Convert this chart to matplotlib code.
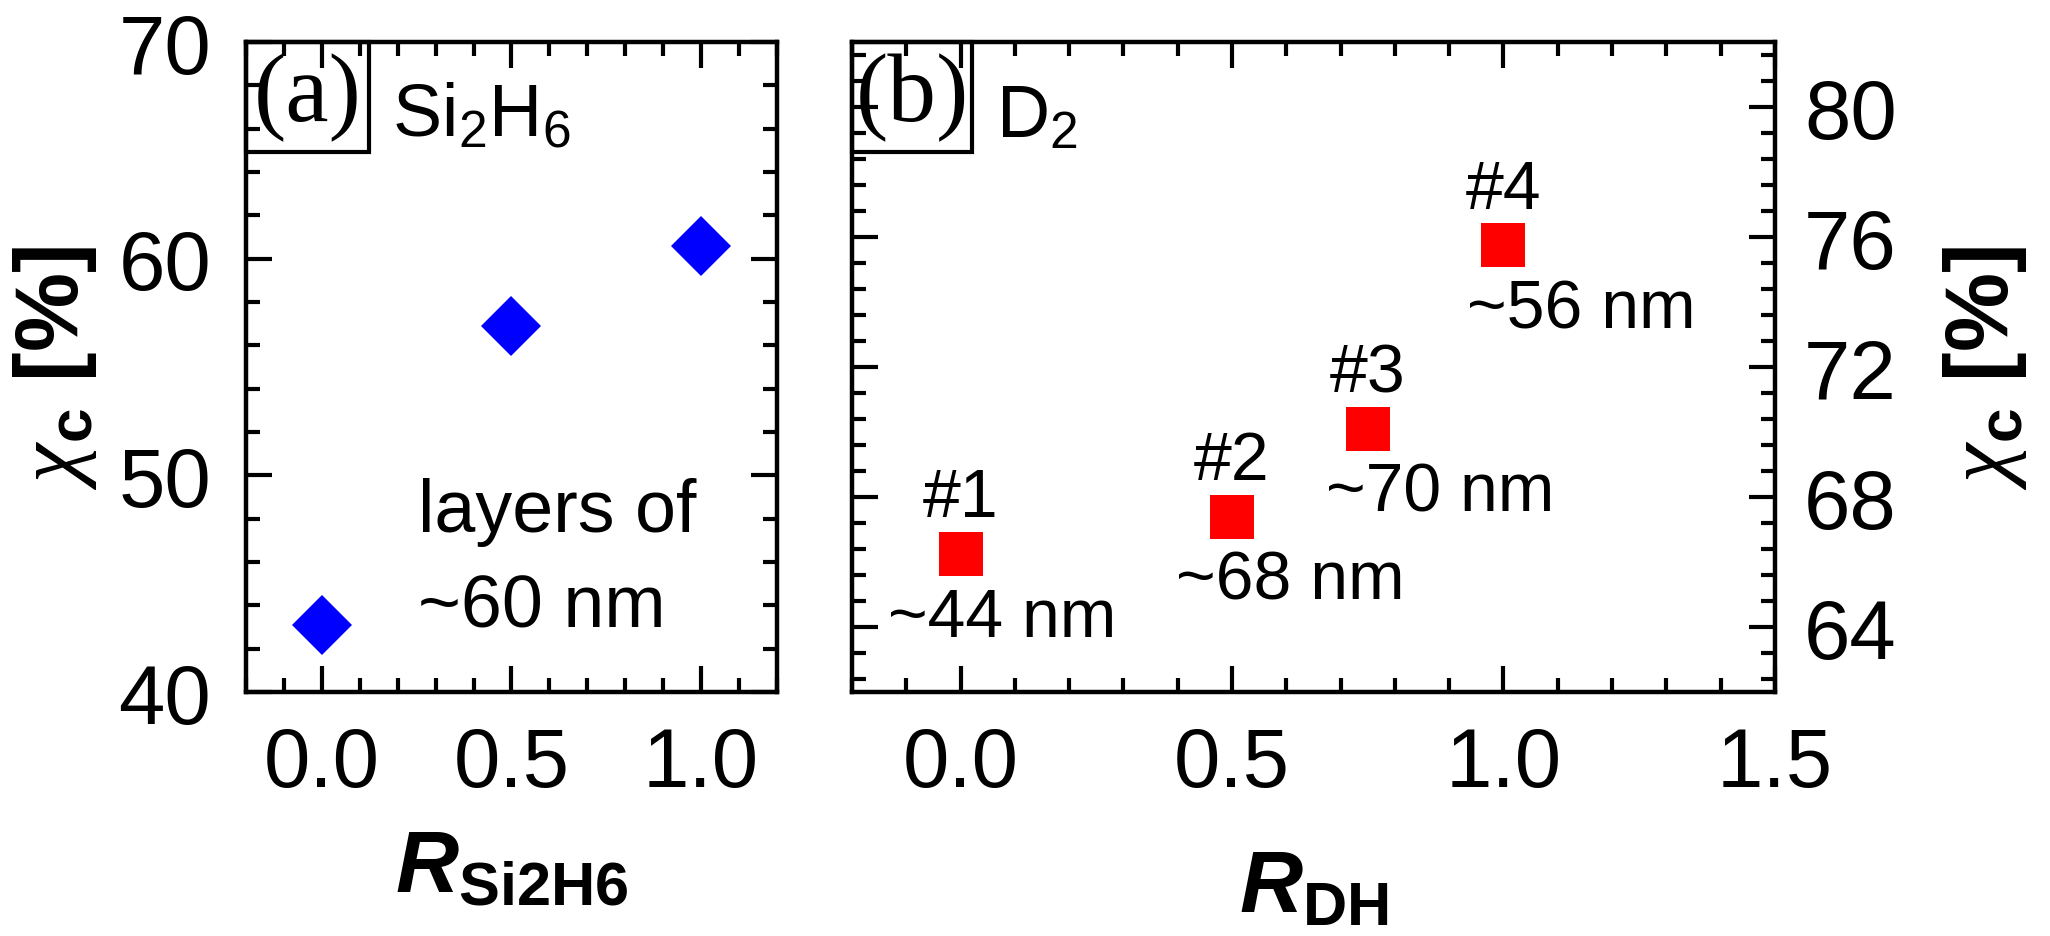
import matplotlib
matplotlib.use('Agg')
import matplotlib.pyplot as plt
from matplotlib.ticker import MultipleLocator, FormatStrFormatter
from matplotlib.patches import Rectangle

# data
r_si2h6 = [0.0, 0.5, 1.0]
xc_si2h6 = [43.1, 56.9, 60.6]

r_dh = [0.0, 0.5, 0.75, 1.0]
xc_dh = [66.25, 67.4, 70.1, 75.75]
sample_names = ['#1', '#2', '#3', '#4']
thickness = ['~44 nm', '~68 nm', '~70 nm', '~56 nm']
nm_dx = [30, 42, 52, 56]   # label shift in points

plt.rcParams['font.family'] = ['Liberation Sans', 'DejaVu Sans']
plt.rcParams['mathtext.fontset'] = 'custom'
plt.rcParams['mathtext.rm'] = 'Liberation Sans'
plt.rcParams['mathtext.bf'] = 'Liberation Sans:bold'
plt.rcParams['mathtext.it'] = 'Liberation Sans:bold:italic'
plt.rcParams['mathtext.sf'] = 'Liberation Serif:italic'

fig = plt.figure(figsize=(20.5, 9.37), dpi=100)
ax1 = fig.add_axes([0.12, 0.2604, 0.259, 0.6937])
ax2 = fig.add_axes([0.4156, 0.2604, 0.4502, 0.6937])

tick_fs = 60
ylab = r'$\mathsf{\chi}_{\mathbf{c}}$ [%]'

def style_axis(ax):
    for s in ax.spines.values():
        s.set_linewidth(3.2)
    ax.tick_params(which='both', direction='in', top=True, right=True, left=True, bottom=True,
                   width=3, labelsize=tick_fs)
    ax.tick_params(which='major', length=19)
    ax.tick_params(which='minor', length=10)
    ax.tick_params(axis='x', pad=24)

# ---- panel (a)
ax1.plot(r_si2h6, xc_si2h6, 'D', color='#0000ff', markersize=31, markeredgewidth=0)
ax1.set_xlim(-0.2, 1.2)
ax1.set_ylim(40, 70)
ax1.xaxis.set_major_locator(MultipleLocator(0.5))
ax1.xaxis.set_minor_locator(MultipleLocator(0.1))
ax1.yaxis.set_major_locator(MultipleLocator(10))
ax1.yaxis.set_minor_locator(MultipleLocator(2))
ax1.xaxis.set_major_formatter(FormatStrFormatter('%.1f'))
style_axis(ax1)
ax1.tick_params(axis='y', pad=25, labelright=False)

ax1.add_patch(Rectangle((0, 1 - 0.169), 0.232, 0.169, transform=ax1.transAxes,
                        fill=False, lw=3, ec='black', clip_on=False))
ax1.text(0.116, 1 - 0.085, '(a)', transform=ax1.transAxes, ha='center', va='center',
         fontsize=70, family='Liberation Serif')
ax1.text(0.275, 0.858, r'Si$_2$H$_6$', transform=ax1.transAxes, ha='left', va='baseline',
         fontsize=53)
ax1.text(0.324, 0.331, 'layers of\n~60 nm', transform=ax1.transAxes, ha='left', va='top',
         fontsize=53, linespacing=1.5)

ax1.set_xlabel(r'$\mathit{R}_{\mathbf{Si2H6}}$', fontsize=63)
ax1.xaxis.set_label_coords(0.5, -0.3077)
ax1.xaxis.label.set_va('baseline')
ax1.set_ylabel(ylab, fontsize=64, fontweight='bold')
ax1.yaxis.set_label_coords(-0.36, 0.5)
ax1.yaxis.label.set_va('center')

# ---- panel (b)
ax2.plot(r_dh, xc_dh, 's', color='#ff0000', markersize=31.5, markeredgewidth=0)
for i in range(len(r_dh)):
    ax2.annotate(sample_names[i], (r_dh[i], xc_dh[i]), xytext=(0, 27), textcoords='offset points',
                 ha='center', va='baseline', fontsize=49)
    ax2.annotate(thickness[i], (r_dh[i], xc_dh[i]), xytext=(nm_dx[i], -59), textcoords='offset points',
                 ha='center', va='baseline', fontsize=49)
ax2.set_xlim(-0.2, 1.5)
ax2.set_ylim(62, 82)
ax2.xaxis.set_major_locator(MultipleLocator(0.5))
ax2.xaxis.set_minor_locator(MultipleLocator(0.1))
ax2.yaxis.set_major_locator(MultipleLocator(4))
ax2.yaxis.set_minor_locator(MultipleLocator(0.8))
ax2.xaxis.set_major_formatter(FormatStrFormatter('%.1f'))
style_axis(ax2)
ax2.tick_params(axis='y', pad=21, labelleft=False, labelright=True)

ax2.add_patch(Rectangle((0, 1 - 0.169), 0.130, 0.169, transform=ax2.transAxes,
                        fill=False, lw=3, ec='black', clip_on=False))
ax2.text(0.065, 1 - 0.085, '(b)', transform=ax2.transAxes, ha='center', va='center',
         fontsize=70, family='Liberation Serif')
ax2.text(0.156, 0.855, r'D$_2$', transform=ax2.transAxes, ha='left', va='baseline',
         fontsize=53)

ax2.set_xlabel(r'$\mathit{R}_{\mathbf{DH}}$', fontsize=63)
ax2.xaxis.set_label_coords(0.5, -0.337)
ax2.xaxis.label.set_va('baseline')
ax2.yaxis.set_label_position('right')
ax2.set_ylabel(ylab, fontsize=64, fontweight='bold')
ax2.yaxis.set_label_coords(1.2275, 0.5)
ax2.yaxis.label.set_va('center')

fig.savefig('out.png', dpi=100)
